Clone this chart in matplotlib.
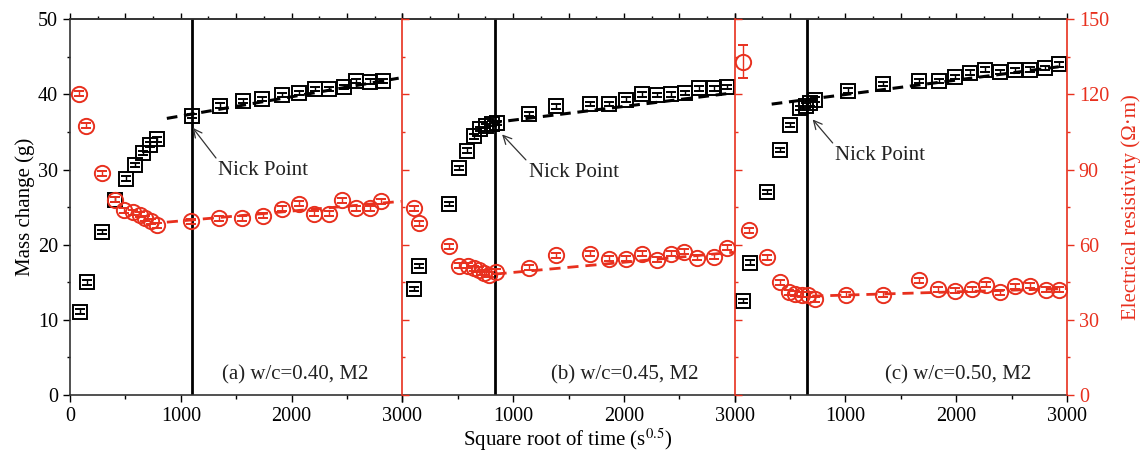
import numpy as np
import matplotlib
matplotlib.use('Agg')
import matplotlib.pyplot as plt
from matplotlib.ticker import MultipleLocator

plt.rcParams['font.family'] = ['Liberation Serif', 'DejaVu Serif']
plt.rcParams['mathtext.fontset'] = 'stix'
plt.rcParams['font.size'] = 14.5

RED = '#e8301e'

# ---- data ---------------------------------------------------------------
# (a) w/c=0.40
a_mass_x = [90, 157, 292, 407, 506, 587, 657, 723, 783, 1100, 1355, 1560, 1732,
            1913, 2063, 2214, 2334, 2470, 2584, 2711, 2825]
a_mass = [11.1, 15.0, 21.7, 26.0, 28.8, 30.6, 32.2, 33.3, 34.0, 37.1, 38.5, 39.1,
          39.4, 39.9, 40.2, 40.7, 40.7, 41.0, 41.8, 41.7, 41.8]
a_res_x = [84, 145, 286, 407, 488, 572, 633, 678, 732, 783, 1090, 1346, 1557, 1738,
           1910, 2063, 2199, 2334, 2455, 2584, 2711, 2810]
a_res = [120.2, 107.5, 88.6, 77.9, 73.7, 73.0, 72.0, 70.6, 69.3, 67.7, 69.3, 70.6,
         70.6, 71.6, 74.3, 76.3, 72.4, 72.4, 77.7, 74.6, 74.6, 77.3]

# (b) w/c=0.45
b_mass_x = [102, 147, 418, 509, 584, 651, 705, 759, 810, 856, 1141, 1383, 1693,
            1865, 2021, 2166, 2301, 2422, 2548, 2677, 2813, 2934]
b_mass = [14.1, 17.2, 25.4, 30.2, 32.5, 34.4, 35.4, 35.8, 36.1, 36.2, 37.4, 38.4,
          38.7, 38.7, 39.3, 40.0, 39.9, 40.0, 40.2, 40.8, 40.8, 41.0]
b_res_x = [102, 147, 418, 509, 593, 645, 690, 736, 781, 841, 1141, 1383, 1693,
           1865, 2021, 2166, 2295, 2422, 2542, 2662, 2813, 2934]
b_res = [74.6, 68.6, 59.3, 51.7, 51.7, 50.7, 50.0, 48.9, 48.0, 49.3, 50.9, 55.7,
         56.3, 54.4, 54.4, 56.4, 54.0, 56.4, 57.1, 54.7, 55.1, 58.7]

# (c) w/c=0.50
c_mass_x = [72, 138, 289, 411, 501, 590, 644, 681, 726, 1027, 1343, 1665, 1840,
            1991, 2126, 2262, 2398, 2533, 2669, 2804, 2924]
c_mass = [12.5, 17.6, 27.0, 32.6, 35.9, 38.2, 38.5, 38.8, 39.3, 40.5, 41.4, 41.8,
          41.8, 42.3, 42.9, 43.3, 43.0, 43.2, 43.3, 43.5, 44.0]
c_res_x = [78, 132, 289, 411, 492, 545, 605, 665, 726, 1006, 1337, 1665, 1837,
           1991, 2141, 2268, 2391, 2533, 2663, 2810, 2924]
c_res = [133.1, 65.7, 54.9, 45.0, 41.0, 40.4, 40.0, 40.0, 38.3, 40.0, 40.0, 45.8,
         42.3, 41.6, 42.3, 44.0, 41.1, 43.4, 43.6, 42.0, 42.0]
c_res_err = [6.5] + [1.0] * (len(c_res) - 1)

# fitted trend lines (end points)
fit_mass_x = [[874, 2967], [800, 2990], [334, 2995]]
fit_mass_y = [[36.8, 42.15], [36.2, 40.2], [38.7, 43.8]]
fit_res_x = [[874, 2990], [841, 2990], [700, 2990]]
fit_res_y = [[69.0, 77.3], [48.3, 57.0], [39.5, 42.5]]

nick_x = [1100, 834, 656]
nick_head = [(1100, 35.7), (892, 34.8), (696, 36.8)]
nick_text = [(1337, 29.9), (1139, 29.65), (906, 31.9)]
panel_labels = ['(a) w/c=0.40, M2', '(b) w/c=0.45, M2', '(c) w/c=0.50, M2']
label_x = [1373, 1346, 1359]

mass_x = [a_mass_x, b_mass_x, c_mass_x]
mass = [a_mass, b_mass, c_mass]
res_x = [a_res_x, b_res_x, c_res_x]
res = [a_res, b_res, c_res]
res_err = [[1.0] * len(a_res), [1.0] * len(b_res), c_res_err]

# ---- figure ---------------------------------------------------------------
fig = plt.figure(figsize=(11.44, 4.67), dpi=100)
axes = fig.subplots(1, 3, sharey=True, gridspec_kw=dict(wspace=0))
fig.subplots_adjust(left=0.0612, right=0.9327, bottom=0.154, top=0.959)

for i, ax in enumerate(axes):
    ax.set_xlim(0, 3000)
    ax.set_ylim(0, 50)
    tw = ax.twinx()
    tw.set_ylim(0, 150)

    # mass change
    ax.errorbar(mass_x[i], mass[i], yerr=0.3, fmt='s', ms=10, mfc='none',
                mec='k', mew=1.4, ecolor='k', elinewidth=1, capsize=3.3,
                capthick=1, zorder=3)
    ax.plot(fit_mass_x[i], fit_mass_y[i], color='k', lw=2.2, ls=(0, (3.5, 2.2)),
            zorder=4)
    ax.axvline(nick_x[i], color='k', lw=2, zorder=2)

    # resistivity
    tw.errorbar(res_x[i], res[i], yerr=res_err[i], fmt='o', ms=11, mfc='none',
                mec=RED, mew=1.4, ecolor=RED, elinewidth=1, capsize=3.6,
                capthick=1, zorder=3)
    tw.plot(fit_res_x[i], fit_res_y[i], color=RED, lw=2, ls=(0, (4, 2.5)),
            zorder=4)

    ax.annotate('Nick Point', xy=nick_head[i], xytext=nick_text[i],
                ha='left', va='center', fontsize=15, color='#222222',
                arrowprops=dict(arrowstyle='->', color='#333333', lw=0.9,
                                relpos=(0, 1), shrinkA=0, shrinkB=1))
    ax.text(label_x[i], 2.66, panel_labels[i], ha='left', va='center',
            fontsize=15, color='#222222')

    # axes styling
    ax.spines['right'].set_visible(False)
    tw.spines['right'].set_color(RED)
    tw.spines['right'].set_linewidth(1.2)
    for s in ['top', 'bottom', 'left']:
        ax.spines[s].set_linewidth(1.2)
        ax.spines[s].set_color('#333333')
    tw.spines['top'].set_visible(False)
    tw.spines['bottom'].set_visible(False)
    tw.spines['left'].set_visible(False)

    ax.set_xticks([0, 1000, 2000, 3000])
    if i == 0:
        ax.set_xticklabels(['0', '1000', '2000', '3000'])
    else:
        ax.set_xticklabels(['', '1000', '2000', '3000'])
        ax.spines['left'].set_visible(False)
        ax.tick_params(axis='y', which='both', left=False, labelleft=False)
    ax.xaxis.set_minor_locator(MultipleLocator(500))
    ax.tick_params(axis='x', which='major', direction='out', length=5, width=1)
    ax.tick_params(axis='x', which='minor', direction='out', length=3, width=1)

    top = ax.secondary_xaxis('top')
    top.set_xticks(np.arange(0, 3001, 500))
    top.xaxis.set_minor_locator(MultipleLocator(250))
    top.tick_params(which='major', direction='out', length=4, width=1,
                    labeltop=False)
    top.tick_params(which='minor', direction='out', length=2.5, width=1)
    top.spines['top'].set_linewidth(1.2)
    top.spines['top'].set_color('#333333')

    tw.set_yticks(np.arange(0, 151, 30))
    tw.yaxis.set_minor_locator(MultipleLocator(15))
    tw.tick_params(axis='y', which='major', direction='out', length=5, width=1,
                   color=RED, labelcolor=RED)
    tw.tick_params(axis='y', which='minor', direction='out', length=2.5,
                   width=1, color=RED)
    if i < 2:
        tw.tick_params(axis='y', labelright=False)
    else:
        tw.set_ylabel('Electrical resistivity (\u03a9\u00b7m)', color=RED,
                      fontsize=15, labelpad=9)

axes[0].set_yticks(np.arange(0, 51, 10))
axes[0].yaxis.set_minor_locator(MultipleLocator(5))
axes[0].tick_params(axis='y', which='major', direction='out', length=5, width=1)
axes[0].tick_params(axis='y', which='minor', direction='out', length=2.5, width=1)
axes[0].set_ylabel('Mass change (g)', fontsize=15, labelpad=2)

fig.text(0.4965, 0.058, 'Square root of time (s$^{0.5}$)', ha='center',
         va='center', fontsize=15)

fig.savefig('out.png', dpi=100)
